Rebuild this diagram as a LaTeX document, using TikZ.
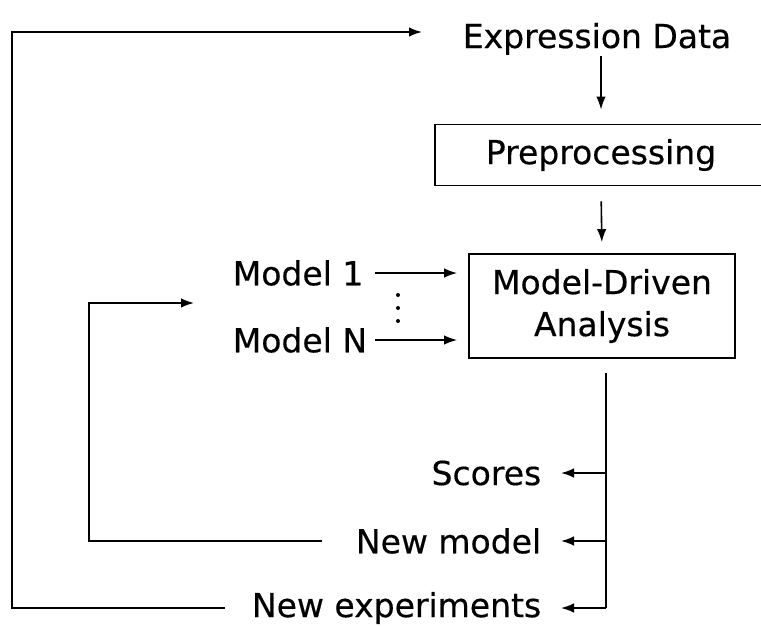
\documentclass[tikz,border=0pt]{standalone}
\usepackage{fontspec}
\setmainfont[FakeBold=0.4]{DejaVu Sans}
\usetikzlibrary{arrows.meta}
\begin{document}
\begin{tikzpicture}[x=1pt,y=-1pt,
  line width=1.6pt,
  arr/.style={-{Latex[length=13pt,width=9.5pt]}},
  lbl/.style={inner sep=0pt, font=\fontsize{33}{42}\selectfont},
  box/.style={draw, line width=1.8pt, inner sep=0pt, align=center,
              font=\fontsize{33}{42}\selectfont},
]
% page
\fill[white] (0,0) rectangle (761,627);
\useasboundingbox (0,0) rectangle (761,627);

% processing chain
\node[lbl, anchor=base] (expr) at (597,48) {Expression Data};
\node[box, minimum width=332pt, minimum height=61pt] (pre) at (601,155) {Preprocessing};
\node[box, minimum width=266pt, minimum height=104pt] (mda) at (602,306) {Model-Driven\\Analysis};

% candidate models
\node[lbl, anchor=west] (m1) at (232,273) {Model 1};
\node[lbl, anchor=west] (mN) at (232,340) {Model N};
\foreach \yy in {295,308,321} \fill (398,\yy) circle (2pt);

% results
\node[lbl, anchor=east] (scores) at (542,473) {Scores};
\node[lbl, anchor=east] (newmod) at (542,541) {New model};
\node[lbl, anchor=east] (newexp) at (542,608) {New experiments};

% helper points
\coordinate (inx)    at (375,0);    % start of the model arrows
\coordinate (tr)     at (606,373);  % top of the output trunk
\coordinate (expIn)  at (422,32);   % feedback into the data
\coordinate (expOut) at (225,608);
\coordinate (outerL) at (12,32);
\coordinate (modIn)  at (194,303);  % feedback into the model list
\coordinate (modOut) at (322,541);
\coordinate (innerL) at (89,303);

% chain arrows
\draw[arr, shorten >=14pt] (expr.south -| pre.north) -- (pre.north);
\draw[arr, shorten <=15pt, shorten >=11pt] (pre.south) -- (mda.north);
\draw[arr, shorten >=11pt] (m1.east -| inx) -- (m1.east -| mda.west);
\draw[arr, shorten >=11pt] (mN.east -| inx) -- (mN.east -| mda.west);

% output trunk and branches
\draw (tr) -- (tr |- newexp.east);
\draw[arr] (tr |- scores.east) -- ([xshift=19pt]scores.east);
\draw[arr] (tr |- newmod.east) -- ([xshift=19pt]newmod.east);
\draw[arr] (tr |- newexp.east) -- ([xshift=19pt]newexp.east);

% feedback loops
\draw[arr] (expOut) -| (outerL) -- (expIn);
\draw[arr] (modOut) -| (innerL) -- (modIn);
\end{tikzpicture}
\end{document}
